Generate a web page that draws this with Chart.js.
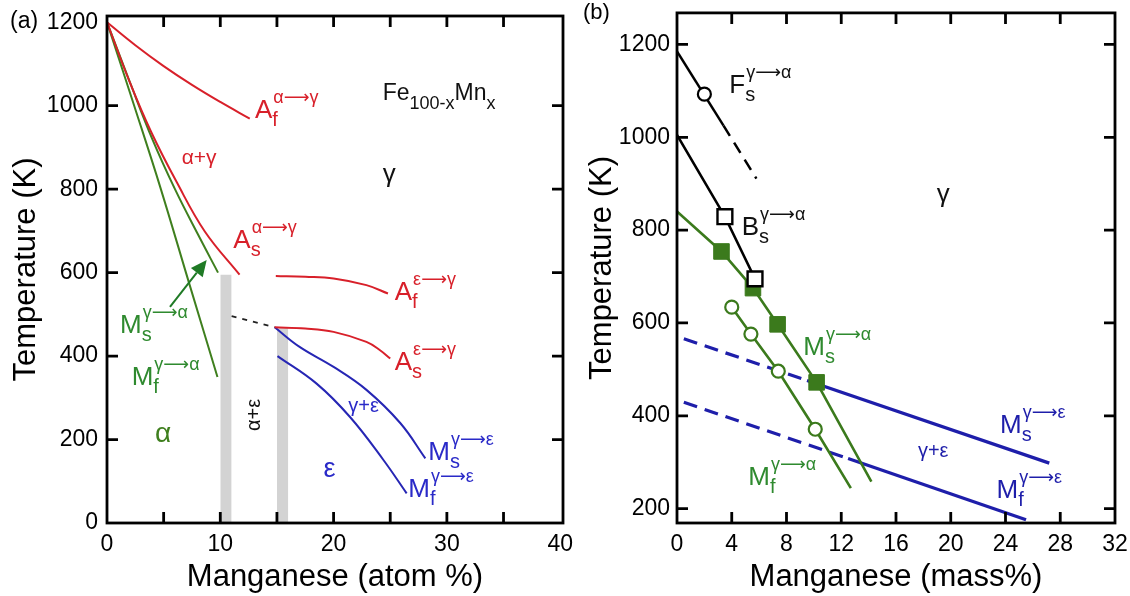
<!DOCTYPE html>
<html>
<head>
<meta charset="utf-8">
<script src="https://cdn.jsdelivr.net/npm/chart.js@4.4.1/dist/chart.umd.min.js"></script>
<style>
  html, body { margin: 0; padding: 0; background: #fff; }
  #wrap { position: relative; width: 1130px; height: 596px; overflow: hidden; }
  #ca { position: absolute; left: 0; top: 0; }
  #cb { position: absolute; left: 580px; top: 0; }
</style>
</head>
<body>
<div id="wrap">
  <canvas id="ca" width="575" height="596"></canvas>
  <canvas id="cb" width="550" height="596"></canvas>
</div>
<script>
// ---------- Panel (a): Fe(100-x)Mn(x), composition in atom % ----------
// each curve is a list of [Mn (at.%), T (K)] pairs
const afAlphaGamma = [[0,1200],[2.5,1145],[5,1095],[7.5,1050],[10,1009],[12.6,969]];
const asAlphaGamma = [[0,1200],[2.0,1057],[3.9,937],[6.15,817],[8.65,698],[11.7,595]];
const msGammaAlpha = [[0,1200],[2,1058],[4,920],[6,800],[8,693],[9.8,600]];
const mfGammaAlpha = [[0,1200],[2.4,1000],[4.7,805],[7.3,570],[9.75,350]];
const afEpsGamma   = [[14.9,592],[17.5,590],[20,586],[22.9,570],[24.8,550]];
const asEpsGamma   = [[14.8,469],[17.5,466],[20,458],[22.9,434],[24.1,414],[25.0,394]];
const msGammaEps   = [[14.8,469],[17,422],[20,374],[22.9,319],[25.9,239],[28.1,155]];
const mfGammaEps   = [[15.05,400],[18.5,334],[21.45,254],[24.4,151],[26.45,71]];
const alphaEpsLink = [[11.0,496],[14.8,469]];
const bandLow      = [[10,595],[11,595]];
const bandHigh     = [[15,467],[16,467]];
const atomTicksX   = [0,10,20,30,40];
const atomMinorX   = [5,15,25,35];
const atomTicksY   = [0,200,400,600,800,1000,1200];

// ---------- Panel (b): composition in mass % ----------
const fsSolid   = [[0,1185],[3.4,1025]];
const fsDashed  = [[3.4,1025],[5.8,911]];
const fsPoints  = [[2.0,1093]];
const bsLine    = [[0,1005],[3.5,829],[5.7,695]];
const bsPoints  = [[3.5,829],[5.7,695]];
const msGALine  = [[0,840],[3.25,754],[5.55,675],[7.35,597],[10.2,472],[14.2,258]];
const msGAPoints= [[3.25,754],[5.55,675],[7.35,597],[10.2,472]];
const mfGALine  = [[4.0,634],[5.4,576],[7.4,496],[10.1,371],[12.7,244]];
const mfGAPoints= [[4.0,634],[5.4,576],[7.4,496],[10.1,371]];
const msGEDashed= [[0.5,566],[9.5,476]];
const msGESolid = [[9.5,476],[27.2,298]];
const mfGEDashed= [[0.5,429],[12.5,308]];
const mfGESolid = [[12.5,308],[25.5,176]];
const massTicksX= [0,4,8,12,16,20,24,28,32];
const massTicksY= [200,400,600,800,1000,1200];

// ---------- styling ----------
const FONT = '"Liberation Sans", "DejaVu Sans", Arial, sans-serif';
const RED_A = '#d8202a', GREEN_A = '#3f7f1e', BLUE_A = '#2626b4';
const GREEN_T = '#2f8a2f', BLUE_T = '#2a2ac8';
const GREEN_B = '#3b7a1c', BLUE_B = '#1e1eaa';

const pts = a => a.map(([x, y]) => ({x, y}));

function curve(data, color, width, dash) {
  return { data: pts(data), showLine: true, borderColor: color, borderWidth: width,
           borderDash: dash || [], pointRadius: 0, fill: false,
           tension: 0.4, order: 2 };
}
function straight(data, color, width, dash) {
  return { data: pts(data), showLine: true, borderColor: color, borderWidth: width,
           borderDash: dash || [], pointRadius: 0, fill: false, tension: 0, order: 2 };
}
function band(data) {
  return { data: pts(data), showLine: true, borderWidth: 0, borderColor: 'rgba(0,0,0,0)',
           backgroundColor: '#d3d3d3', fill: 'origin', pointRadius: 0, order: 9 };
}
function markers(data, style, stroke, fillColor, r, bw) {
  return { data: pts(data), showLine: false, pointStyle: style, pointRadius: r,
           pointBorderColor: stroke, pointBackgroundColor: fillColor,
           pointBorderWidth: bw, order: 0 };
}

// text with sub/superscripts: parts = [[text, 'b'|'sub'|'sup'], ...]
function drawRich(ctx, x0, y0, l) {
  const base = l.size || 26, sub = l.subSize || 20, sup = l.supSize || 18;
  const subDy = l.subDy != null ? l.subDy : 8, supDy = l.supDy != null ? l.supDy : -15;
  ctx.fillStyle = l.color;
  ctx.textAlign = 'left';
  ctx.textBaseline = 'alphabetic';
  let anchor = x0, end = x0;
  for (const [t, k] of l.parts) {
    if (k === 'b') {
      ctx.font = base + 'px ' + FONT;
      ctx.fillText(t, end, y0);
      anchor = end = end + ctx.measureText(t).width;
    } else {
      const s = k === 'sub' ? sub : sup;
      ctx.font = s + 'px ' + FONT;
      const gx = anchor + (k === 'sub' ? 0 : 1);
      ctx.fillText(t, gx, y0 + (k === 'sub' ? subDy : supDy));
      end = Math.max(end, gx + ctx.measureText(t).width);
    }
  }
}

function makeDeco(cfg) {
  return {
    id: 'deco',
    afterDatasetsDraw(chart) {
      const {ctx, chartArea: a} = chart;
      const sx = chart.scales.x, sy = chart.scales.y;
      const X = v => sx.getPixelForValue(v), Y = v => sy.getPixelForValue(v);
      ctx.save();

      // arrows (data coordinates)
      (cfg.arrows || []).forEach(ar => {
        const x1 = X(ar.from[0]), y1 = Y(ar.from[1]), x2 = X(ar.to[0]), y2 = Y(ar.to[1]);
        const ang = Math.atan2(y2 - y1, x2 - x1), hl = 16, hw = 7.5;
        const bx = x2 - hl * Math.cos(ang), by = y2 - hl * Math.sin(ang);
        ctx.strokeStyle = ar.color; ctx.fillStyle = ar.color; ctx.lineWidth = 2;
        ctx.beginPath(); ctx.moveTo(x1, y1); ctx.lineTo(bx, by); ctx.stroke();
        ctx.beginPath();
        ctx.moveTo(x2, y2);
        ctx.lineTo(bx + hw * Math.sin(ang), by - hw * Math.cos(ang));
        ctx.lineTo(bx - hw * Math.sin(ang), by + hw * Math.cos(ang));
        ctx.closePath(); ctx.fill();
      });

      // frame
      ctx.strokeStyle = '#000';
      ctx.lineWidth = 2.8;
      ctx.lineJoin = 'miter';
      ctx.strokeRect(a.left, a.top, a.right - a.left, a.bottom - a.top);

      // inward tick marks on all four sides
      const L = 11;
      ctx.lineWidth = 2.8;
      ctx.beginPath();
      cfg.xTicks.concat(cfg.xMinor || []).forEach(v => {
        const p = X(v);
        if (p < a.left + 6 || p > a.right - 6) return;
        ctx.moveTo(p, a.bottom); ctx.lineTo(p, a.bottom - L);
        ctx.moveTo(p, a.top); ctx.lineTo(p, a.top + L);
      });
      cfg.yTicks.forEach(v => {
        const p = Y(v);
        if (p < a.top + 8 || p > a.bottom - 6) return;
        ctx.moveTo(a.left, p); ctx.lineTo(a.left + L, p);
        ctx.moveTo(a.right, p); ctx.lineTo(a.right - L, p);
      });
      ctx.stroke();

      // text annotations placed in data coordinates
      cfg.labels.forEach(l => drawRich(ctx, X(l.at[0]), Y(l.at[1]), l));

      // rotated text
      (cfg.rotated || []).forEach(r => {
        ctx.save();
        ctx.translate(X(r.at[0]), Y(r.at[1]));
        ctx.rotate(-Math.PI / 2);
        ctx.font = r.size + 'px ' + FONT;
        ctx.fillStyle = r.color;
        ctx.textAlign = 'center';
        ctx.textBaseline = 'middle';
        ctx.fillText(r.text, 0, 0);
        ctx.restore();
      });

      // panel tag
      if (cfg.tag) {
        ctx.font = cfg.tag.size + 'px ' + FONT;
        ctx.fillStyle = '#000';
        ctx.textAlign = 'left';
        ctx.textBaseline = 'alphabetic';
        ctx.fillText(cfg.tag.text, cfg.tag.px, cfg.tag.py);
      }
      ctx.restore();
    }
  };
}

function axes(xMin, xMax, xTicks, yMin, yMax, yTicks, xTitle, yWidth, yTitlePad, yTickPad) {
  return {
    x: {
      type: 'linear', position: 'bottom', min: xMin, max: xMax,
      grid: { display: false, drawTicks: false }, border: { display: false },
      ticks: { font: { family: FONT, size: 23 }, color: '#000', padding: 8,
               maxRotation: 0, autoSkip: false, callback: v => String(v) },
      afterBuildTicks: s => { s.ticks = xTicks.map(v => ({ value: v })); },
      afterFit: s => { s.height = 73; s.paddingLeft = 0; s.paddingRight = 0; },
      title: { display: true, text: xTitle, color: '#000',
               font: { family: FONT, size: 31 }, padding: { top: 0, bottom: 0 } }
    },
    y: {
      type: 'linear', position: 'left', min: yMin, max: yMax,
      grid: { display: false, drawTicks: false }, border: { display: false },
      ticks: { font: { family: FONT, size: 23 }, color: '#000', padding: yTickPad,
               autoSkip: false, callback: v => String(v) },
      afterBuildTicks: s => { s.ticks = yTicks.map(v => ({ value: v })); },
      afterFit: s => { s.width = yWidth; s.paddingTop = 0; s.paddingBottom = 0; },
      title: { display: true, text: 'Temperature (K)', color: '#000',
               font: { family: FONT, size: 31 }, padding: { top: yTitlePad, bottom: 0 } }
    }
  };
}

const baseOpts = {
  responsive: false, animation: false, devicePixelRatio: 1,
  plugins: { legend: { display: false }, tooltip: { enabled: false } },
  events: []
};

// ---------- chart (a) ----------
const labelsA = [
  { at: [13.06, 970], color: RED_A, parts: [['A','b'],['f','sub'],['α⟶γ','sup']] },
  { at: [11.15, 658], color: RED_A, parts: [['A','b'],['s','sub'],['α⟶γ','sup']] },
  { at: [25.4, 534],  color: RED_A, parts: [['A','b'],['f','sub'],['ε⟶γ','sup']] },
  { at: [25.4, 366],  color: RED_A, parts: [['A','b'],['s','sub'],['ε⟶γ','sup']] },
  { at: [28.36, 151], color: BLUE_T, parts: [['M','b'],['s','sub'],['γ⟶ε','sup']] },
  { at: [26.6, 63],   color: BLUE_T, parts: [['M','b'],['f','sub'],['γ⟶ε','sup']] },
  { at: [1.15, 455],  color: GREEN_T, parts: [['M','b'],['s','sub'],['γ⟶α','sup']] },
  { at: [2.18, 330],  color: GREEN_T, parts: [['M','b'],['f','sub'],['γ⟶α','sup']] },
  { at: [6.59, 861],  color: RED_A, size: 21, parts: [['α+γ','b']] },
  { at: [21.3, 267],  color: BLUE_T, size: 20, parts: [['γ+ε','b']] },
  { at: [19.1, 111],  color: BLUE_T, size: 27, parts: [['ε','b']] },
  { at: [4.24, 195],  color: GREEN_A, size: 28, parts: [['α','b']] },
  { at: [24.33, 817], color: '#111', size: 26, parts: [['γ','b']] },
  { at: [24.33, 1013], color: '#111', size: 23, subSize: 18, subDy: 9,
    parts: [['Fe','b'],['100-x','sub'],['Mn','b'],['x','sub']] }
];

new Chart(document.getElementById('ca'), {
  type: 'scatter',
  data: { datasets: [
    band(bandLow), band(bandHigh),
    curve(afAlphaGamma, RED_A, 2), curve(asAlphaGamma, RED_A, 2),
    curve(msGammaAlpha, GREEN_A, 2), curve(mfGammaAlpha, GREEN_A, 2),
    curve(afEpsGamma, RED_A, 2), curve(asEpsGamma, RED_A, 2),
    curve(msGammaEps, BLUE_A, 2), curve(mfGammaEps, BLUE_A, 2),
    straight(alphaEpsLink, '#222', 1.8, [5, 6])
  ]},
  options: Object.assign({}, baseOpts, {
    layout: { padding: { left: 0, top: 16, right: 12, bottom: 0 } },
    scales: axes(0, 40.25, atomTicksX, 0, 1215, atomTicksY, 'Manganese (atom %)', 107, 8, 9)
  }),
  plugins: [makeDeco({
    xTicks: atomTicksX, xMinor: atomMinorX, yTicks: atomTicksY,
    labels: labelsA,
    arrows: [{ from: [5.56, 518], to: [8.8, 630], color: '#1f7a25' }],
    rotated: [{ at: [13.06, 259], text: 'α+ε', size: 20, color: '#111' }],
    tag: { text: '(a)', px: 10, py: 28, size: 23 }
  })]
});

// ---------- chart (b) ----------
const labelsB = [
  { at: [3.82, 1096], color: '#111', parts: [['F','b'],['s','sub'],['γ⟶α','sup']] },
  { at: [4.73, 790],  color: '#111', parts: [['B','b'],['s','sub'],['γ⟶α','sup']] },
  { at: [9.23, 531],  color: GREEN_T, parts: [['M','b'],['s','sub'],['γ⟶α','sup']] },
  { at: [5.21, 251],  color: GREEN_T, parts: [['M','b'],['f','sub'],['γ⟶α','sup']] },
  { at: [23.6, 362],  color: BLUE_B, parts: [['M','b'],['s','sub'],['γ⟶ε','sup']] },
  { at: [23.35, 222], color: BLUE_B, parts: [['M','b'],['f','sub'],['γ⟶ε','sup']] },
  { at: [17.6, 311],  color: BLUE_B, size: 20, parts: [['γ+ε','b']] },
  { at: [18.97, 861], color: '#111', size: 26, parts: [['γ','b']] }
];

new Chart(document.getElementById('cb'), {
  type: 'scatter',
  data: { datasets: [
    straight(fsSolid, '#000', 2.5), straight(fsDashed, '#000', 2.5, [12, 8]),
    straight(bsLine, '#000', 2.5),
    straight(msGALine, GREEN_B, 2.6), straight(mfGALine, GREEN_B, 2.6),
    straight(msGEDashed, BLUE_B, 3.2, [14, 8]), straight(msGESolid, BLUE_B, 3.2),
    straight(mfGEDashed, BLUE_B, 3.2, [14, 8]), straight(mfGESolid, BLUE_B, 3.2),
    markers(fsPoints, 'circle', '#000', '#fff', 6.5, 2.2),
    markers(bsPoints, 'rect', '#000', '#fff', 10.5, 2.4),
    markers(msGAPoints, 'rect', GREEN_B, GREEN_B, 11, 1),
    markers(mfGAPoints, 'circle', GREEN_B, '#fff', 6.5, 2.2)
  ]},
  options: Object.assign({}, baseOpts, {
    layout: { padding: { left: 0, top: 10, right: 15, bottom: 0 } },
    scales: axes(0, 32, massTicksX, 169, 1268, massTicksY, 'Manganese (mass%)', 97, 4, 7)
  }),
  plugins: [makeDeco({
    xTicks: massTicksX, yTicks: massTicksY,
    labels: labelsB,
    tag: { text: '(b)', px: 3, py: 19, size: 22 }
  })]
});
</script>
</body>
</html>
